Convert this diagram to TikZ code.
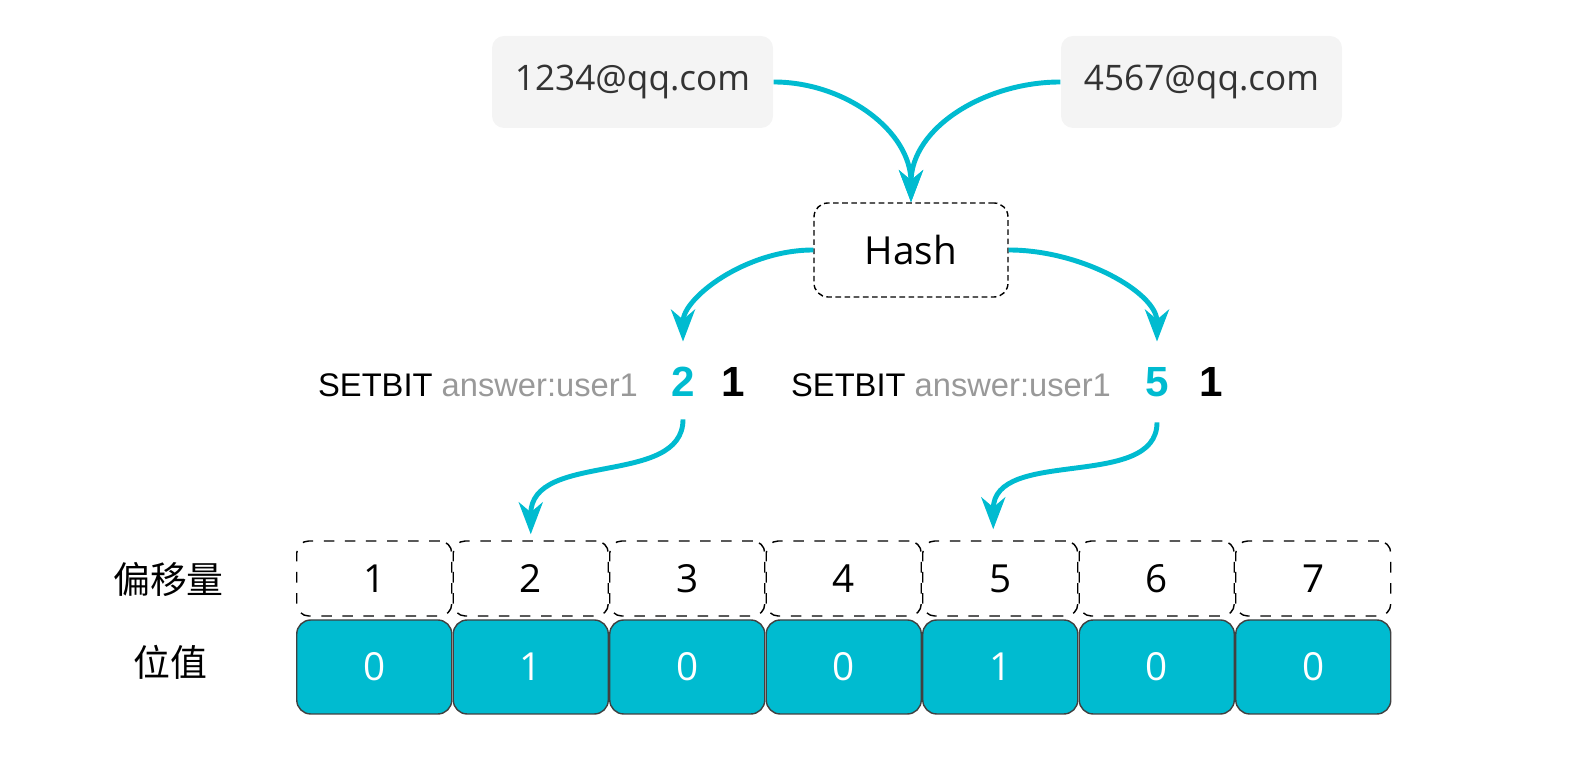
\documentclass[tikz,border=0pt]{standalone}
\usepackage{fontspec}
\setmainfont{Liberation Sans}
\newfontfamily\comic{Open Sans}
\newfontfamily\cjk{Noto Sans CJK SC}
\usetikzlibrary{positioning,arrows.meta}

\definecolor{bitcyan}{HTML}{00BBD0}
\definecolor{boxgray}{HTML}{F4F4F4}
\definecolor{keygray}{HTML}{999999}

\tikzset{
    flow/.style={draw=bitcyan, line width=1.4pt, -{Stealth[length=3.2mm, width=2.4mm, inset=1mm]}},
    email/.style={fill=boxgray, rounded corners=0.12cm, minimum width=2.81cm, minimum height=0.92cm, font=\comic\fontsize{10}{12}\selectfont, text=black!80},
    hashbox/.style={draw, dash pattern=on 1.6pt off 1pt, rounded corners=0.14cm, minimum width=1.94cm, minimum height=0.94cm, font=\comic\fontsize{11}{13}\selectfont},
    cmd/.style={inner sep=0pt, font=\fontsize{9.3}{11}\selectfont},
    bigbit/.style={inner sep=0pt, font=\bfseries\fontsize{12}{14}\selectfont},
    offcell/.style={draw, dashed, rounded corners=0.12cm, minimum width=1.55cm, minimum height=0.75cm, font=\comic\fontsize{11}{13}\selectfont},
    valcell/.style={draw=black!75, fill=bitcyan, rounded corners=0.14cm, minimum width=1.55cm, minimum height=0.94cm, text=white, font=\comic\fontsize{11}{13}\selectfont},
    rowlabel/.style={font=\cjk\fontsize{10.5}{12}\selectfont}
}

\begin{document}
\begin{tikzpicture}
    \useasboundingbox (0,0) rectangle (15.88,7.77);

    % Inputs
    \node[email] (mail1) at (6.325,6.95) {1234@qq.com};
    \node[email] (mail2) at (12.015,6.95) {4567@qq.com};

    % Hash
    \node[hashbox] (hash) at (9.11,5.27) {Hash};
    \draw[flow] (mail1.east) to[out=0, in=90] (hash.north);
    \draw[flow] (mail2.west) to[out=180, in=90] (hash.north);

    % Commands
    \node[bigbit, text=bitcyan] (two) at (6.83,3.95) {2};
    \node[bigbit, right=0.25cm of two] (bitA) {1};
    \node[cmd, left=0.32cm of two.base west, anchor=base east] (cmdA) {SETBIT \textcolor{keygray}{answer:user1}};

    \node[bigbit, text=bitcyan] (five) at (11.57,3.95) {5};
    \node[bigbit, right=0.29cm of five] (bitB) {1};
    \node[cmd, left=0.33cm of five.base west, anchor=base east] (cmdB) {SETBIT \textcolor{keygray}{answer:user1}};

    \draw[flow, shorten >=0.25cm] (hash.west) to[out=180, in=90] (two.north);
    \draw[flow, shorten >=0.25cm] (hash.east) to[out=0, in=90] (five.north);

    % Bitmap
    \node[rowlabel] (offlabel) at (1.685,1.97) {偏移量};
    \node[rowlabel] (vallabel) at (1.70,1.15) {位值};
    \foreach \i/\v in {1/0,2/1,3/0,4/0,5/1,6/0,7/0} {
        \node[offcell] (off\i) at (2.96+1.565*\i-0.7825,1.985) {\i};
        \node[valcell] (val\i) at (2.96+1.565*\i-0.7825,1.10) {\v};
    }

    \draw[flow, shorten <=0.22cm, shorten >=0.06cm] (two.south) to[out=-90, in=90, looseness=1.1] (off2.north);
    \draw[flow, shorten <=0.25cm, shorten >=0.11cm] (five.south) to[out=-90, in=90, looseness=1.1] ([xshift=-0.07cm]off5.north);

\end{tikzpicture}
\end{document}
